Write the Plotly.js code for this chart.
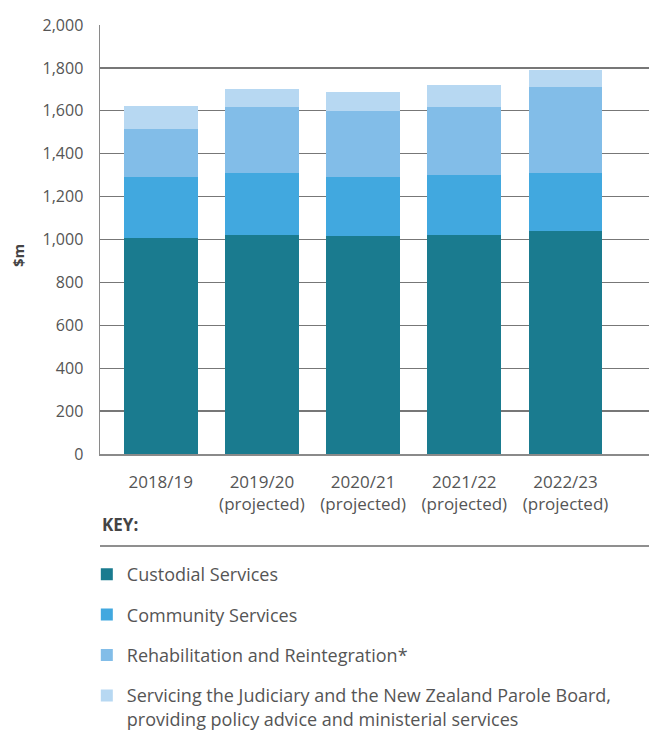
<!DOCTYPE html>
<html>
<head>
<meta charset="utf-8">
<script src="https://cdn.plot.ly/plotly-3.0.1.min.js"></script>
<style>html,body{margin:0;padding:0;background:#fff;}#chart{width:649px;height:731px;}</style>
</head>
<body>
<div id="chart"></div>
<script>
const categories = ["2018/19", "2019/20<br>(projected)", "2020/21<br>(projected)", "2021/22<br>(projected)", "2022/23<br>(projected)"];
const custodial = [1006, 1020, 1015, 1020, 1038];
const community = [284, 288, 275, 280, 270];
const rehabilitation = [225, 309, 308, 317, 402];
const servicing = [107, 84, 89, 103, 82];
const seriesNames = [
  "Custodial Services",
  "Community Services",
  "Rehabilitation and Reintegration*",
  "Servicing the Judiciary and the New Zealand Parole Board,<br>providing policy advice and ministerial services"
];
const seriesColors = ["#1a7b8f", "#41a8df", "#82bde8", "#b7d8f2"];
const yTicks = [0, 200, 400, 600, 800, 1000, 1200, 1400, 1600, 1800, 2000];
const yTickText = ["0", "200", "400", "600", "800", "1,000", "1,200", "1,400", "1,600", "1,800", "2,000"];

const values = [custodial, community, rehabilitation, servicing];
const xIdx = categories.map((c, i) => i);
const traces = values.map((v, k) => ({
  type: "bar",
  x: xIdx,
  y: v,
  name: seriesNames[k],
  legendgroup: "g" + k,
  marker: {color: seriesColors[k], line: {width: 0}},
  hoverinfo: "y+name"
}));

const FONT = "'Open Sans', 'Noto Sans', sans-serif";
const PLOT_H = 429;
const py = (pix) => (454 - pix) / PLOT_H;
const px = (pix) => (pix - 100) / 549;

const layout = {
  width: 649,
  height: 731,
  margin: {l: 100, r: 0, t: 25, b: 277, pad: 0, autoexpand: false},
  paper_bgcolor: "#ffffff",
  plot_bgcolor: "#ffffff",
  barmode: "stack",
  bargap: 0.27,
  font: {family: FONT, color: "#555555", size: 15},
  xaxis: {
    range: [-0.6, 4.825],
    tickmode: "array",
    tickvals: xIdx,
    ticktext: categories,
    showgrid: false,
    showline: true,
    linecolor: "#8a8a8a",
    linewidth: 1.5,
    ticks: "",
    ticklabelstandoff: 12,
    tickfont: {family: FONT, size: 17, color: "#555555"},
    zeroline: false,
    automargin: false,
    fixedrange: true
  },
  yaxis: {
    range: [0, 2000],
    tickmode: "array",
    tickvals: yTicks,
    ticktext: yTickText,
    showgrid: true,
    gridcolor: "#777777",
    gridwidth: 1.3,
    showline: true,
    linecolor: "#8a8a8a",
    linewidth: 1.5,
    ticks: "",
    ticklabelstandoff: 12,
    tickfont: {family: FONT, size: 16, color: "#555555"},
    zeroline: false,
    automargin: false,
    fixedrange: true
  },
  showlegend: true,
  legend: {
    x: -0.024,
    xanchor: "left",
    y: py(556),
    yanchor: "top",
    traceorder: "grouped",
    tracegroupgap: 14,
    valign: "top",
    font: {family: FONT, size: 18, color: "#555555"},
    bgcolor: "rgba(0,0,0,0)",
    itemclick: false,
    itemdoubleclick: false
  },
  annotations: [{
    xref: "paper", yref: "paper",
    x: px(100), y: py(524),
    xanchor: "left", yanchor: "middle",
    text: "<b>KEY:</b>",
    showarrow: false,
    font: {family: FONT, size: 17, color: "#444444"}
  }, {
    xref: "paper", yref: "paper",
    x: px(18), y: py(256),
    xanchor: "center", yanchor: "middle",
    text: "<b>$m</b>",
    textangle: -90,
    showarrow: false,
    font: {family: FONT, size: 15, color: "#444444"}
  }],
  shapes: [{
    type: "line", xref: "paper", yref: "paper",
    x0: 0, x1: 1, y0: py(546), y1: py(546),
    line: {color: "#6a6a6a", width: 1.5}
  }]
};

Plotly.newPlot("chart", traces, layout, {displayModeBar: false, staticPlot: true});
</script>
</body>
</html>
